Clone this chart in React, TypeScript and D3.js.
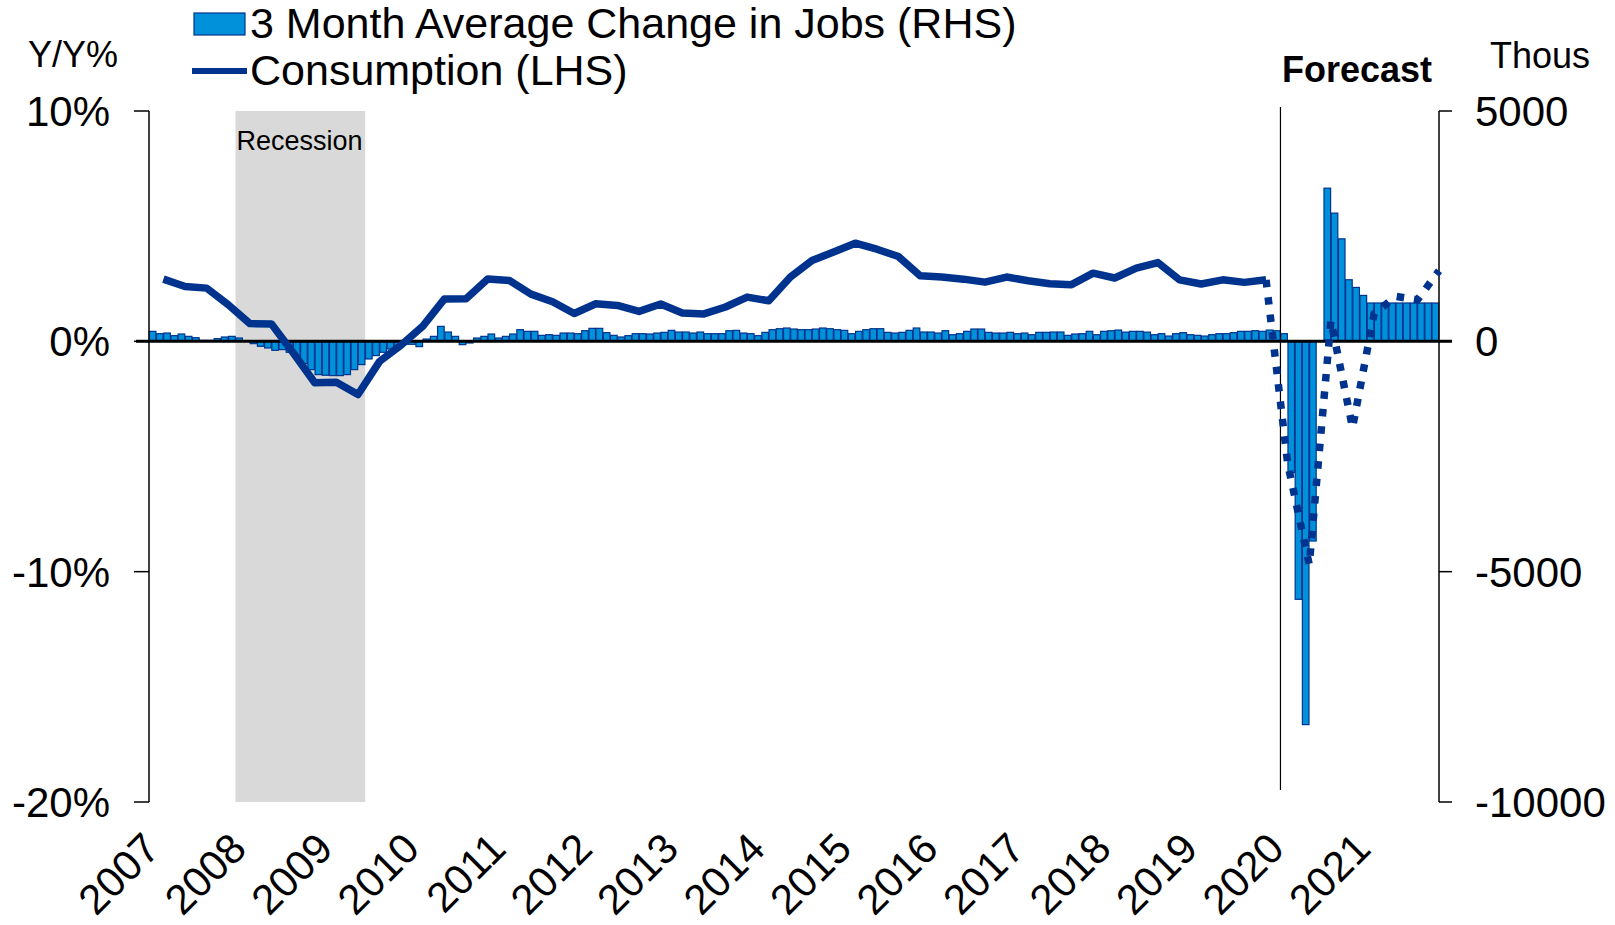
import React, { useEffect, useRef } from 'react';
import * as d3 from 'd3';

// monthly categories, Jan 2007 .. Nov 2021
const months: string[] = [];
for (let y = 2007; y <= 2021; y++) {
    for (let m = 1; m <= 12; m++) months.push(`${y}-${m < 10 ? '0' + m : m}`);
}
months.splice(179);

// 3 month average change in jobs, thousands (RHS)
const jobsChange: number[] = [
    217, 166, 180, 123, 159, 108, 79, 22, 22, 58, 94, 108,
    72, 15, -50, -108, -144, -195, -180, -238, -340, -484, -614, -722,
    -736, -744, -744, -722, -614, -505, -383, -310, -238, -166, -130, -65,
    -65, -115, 50, 108, 325, 202, 108, -72, -36, 72, 108, 159,
    72, 108, 159, 253, 217, 217, 130, 144, 130, 180, 180, 166,
    231, 282, 282, 188, 130, 94, 123, 166, 166, 159, 180, 195,
    238, 202, 202, 180, 202, 166, 166, 166, 231, 238, 180, 166,
    123, 195, 253, 274, 289, 267, 253, 253, 267, 289, 274, 253,
    238, 166, 217, 253, 274, 274, 195, 180, 195, 238, 289, 202,
    202, 180, 231, 144, 166, 217, 267, 267, 195, 180, 180, 195,
    166, 180, 144, 195, 195, 202, 202, 130, 159, 166, 217, 144,
    217, 230, 245, 200, 217, 217, 200, 144, 166, 115, 166, 188,
    144, 130, 115, 144, 166, 166, 188, 217, 217, 231, 217, 245,
    230, 166, -2850, -5600, -8320, -4335, 0, 3325, 2783, 2225, 1337, 1170,
    997, 832, 832, 832, 832, 832, 832, 832, 832, 832, 832
];

// consumption Y/Y %, quarterly (LHS)
const actualQuarters: string[] = [];
for (let y = 2007; y <= 2019; y++) for (let q = 1; q <= 4; q++) actualQuarters.push(`${y}Q${q}`);
const consumption: number[] = [
    2.70, 2.38, 2.31, 1.59,
    0.77, 0.75, -0.50, -1.80,
    -1.78, -2.31, -0.87, -0.16,
    0.66, 1.84, 1.85, 2.71,
    2.64, 2.05, 1.72, 1.21,
    1.63, 1.56, 1.30, 1.62,
    1.23, 1.19, 1.49, 1.92,
    1.76, 2.79, 3.51, 3.88,
    4.26, 4.00, 3.68, 2.85,
    2.79, 2.70, 2.57, 2.79,
    2.63, 2.50, 2.46, 2.96,
    2.75, 3.18, 3.42, 2.67,
    2.49, 2.67, 2.56, 2.67
];
const forecastQuarters: string[] = ['2019Q4', '2020Q1', '2020Q2', '2020Q3', '2020Q4', '2021Q1', '2021Q2', '2021Q3', '2021Q4'];
const consumptionForecast: number[] = [2.67, -5.3, -9.7, 0.9, -3.75, 1.2, 1.95, 1.8, 3.06];

const yearLabels: string[] = ['2007', '2008', '2009', '2010', '2011', '2012', '2013', '2014', '2015', '2016', '2017', '2018', '2019', '2020', '2021'];
const leftTicks: number[] = [10, 0, -10, -20];
const rightTicks: number[] = [5000, 0, -5000, -10000];

const width = 1615;
const height = 925;
const plot = {left: 149, right: 1439, top: 111, bottom: 802};
const font = '"Liberation Sans", Arial, sans-serif';
const darkBlue = '#00338D';
const lightBlue = '#0091DA';

// quarter -> middle month of that quarter
const quarterMonth = (q: string) => {
    const yr = q.slice(0, 4);
    const m = (+q.slice(5)) * 3 - 1;
    return `${yr}-${m < 10 ? '0' + m : m}`;
};

const App = () => {
    const anchor = useRef<SVGSVGElement>(null);

    useEffect(() => {
        const svg = d3.select(anchor.current);
        svg.selectAll('*').remove();

        const x = d3.scaleBand<string>().domain(months).range([plot.left, plot.right]).padding(0);
        const bw = x.bandwidth();
        const yL = d3.scaleLinear().domain([-20, 10]).range([plot.bottom, plot.top]);
        const yR = d3.scaleLinear().domain([-10000, 5000]).range([plot.bottom, plot.top]);
        const qx = (q: string) => (x(quarterMonth(q)) as number) + bw;

        // recession shading
        svg.append('rect')
            .attr('x', x('2008-01') as number)
            .attr('y', plot.top)
            .attr('width', (x('2009-06') as number) + bw - (x('2008-01') as number))
            .attr('height', plot.bottom - plot.top)
            .attr('fill', '#D9D9D9');
        svg.append('text')
            .attr('x', (x('2008-01') as number) + 1)
            .attr('y', 150)
            .attr('font-size', 27)
            .attr('font-family', font)
            .text('Recession');

        // bars
        svg.append('g').selectAll('rect')
            .data(jobsChange.map((v, i) => ({m: months[i], v})).filter(d => d.v !== 0))
            .enter().append('rect')
            .attr('x', d => (x(d.m) as number) + 0.3)
            .attr('width', bw - 0.6)
            .attr('y', d => Math.min(yR(d.v), yR(0)))
            .attr('height', d => Math.abs(yR(d.v) - yR(0)))
            .attr('fill', lightBlue)
            .attr('stroke', darkBlue)
            .attr('stroke-width', 1.2);

        // axes
        svg.append('line')
            .attr('x1', plot.left - 13).attr('x2', plot.right + 13)
            .attr('y1', yL(0)).attr('y2', yL(0))
            .attr('stroke', '#000').attr('stroke-width', 3);
        svg.append('line')
            .attr('x1', plot.left).attr('x2', plot.left)
            .attr('y1', plot.top).attr('y2', plot.bottom)
            .attr('stroke', '#000').attr('stroke-width', 1.5);
        svg.append('line')
            .attr('x1', plot.right).attr('x2', plot.right)
            .attr('y1', plot.top).attr('y2', plot.bottom)
            .attr('stroke', '#000').attr('stroke-width', 1.5);

        const lt = svg.append('g').selectAll('g').data(leftTicks).enter().append('g');
        lt.append('line')
            .attr('x1', plot.left - 15).attr('x2', plot.left)
            .attr('y1', d => yL(d)).attr('y2', d => yL(d))
            .attr('stroke', '#000').attr('stroke-width', 1.5);
        lt.append('text')
            .attr('x', 110).attr('y', d => yL(d) + 15)
            .attr('text-anchor', 'end')
            .attr('font-size', 42).attr('font-family', font)
            .text(d => `${d}%`);

        const rt = svg.append('g').selectAll('g').data(rightTicks).enter().append('g');
        rt.append('line')
            .attr('x1', plot.right).attr('x2', plot.right + 13)
            .attr('y1', d => yR(d)).attr('y2', d => yR(d))
            .attr('stroke', '#000').attr('stroke-width', 1.5);
        rt.append('text')
            .attr('x', 1475).attr('y', d => yR(d) + 15)
            .attr('font-size', 42).attr('font-family', font)
            .text(d => `${d}`);

        // year labels
        svg.append('g').selectAll('text').data(yearLabels).enter().append('text')
            .attr('transform', d => `translate(${(x(`${d}-01`) as number) + 13},${plot.bottom + 49}) rotate(-45)`)
            .attr('text-anchor', 'end')
            .attr('font-size', 42).attr('font-family', font)
            .text(d => d);

        // forecast divider
        svg.append('line')
            .attr('x1', x('2020-02') as number).attr('x2', x('2020-02') as number)
            .attr('y1', 107).attr('y2', 790)
            .attr('stroke', '#000').attr('stroke-width', 1.2);

        // consumption lines
        const line = d3.line<[string, number]>().x(d => qx(d[0])).y(d => yL(d[1]));
        svg.append('path')
            .datum(actualQuarters.map((q, i) => [q, consumption[i]] as [string, number]))
            .attr('d', line)
            .attr('fill', 'none').attr('stroke', darkBlue).attr('stroke-width', 7.5)
            .attr('stroke-linejoin', 'round');
        svg.append('path')
            .datum(forecastQuarters.map((q, i) => [q, consumptionForecast[i]] as [string, number]))
            .attr('d', line)
            .attr('fill', 'none').attr('stroke', darkBlue).attr('stroke-width', 7.5)
            .attr('stroke-dasharray', '7.5 10');

        // titles
        svg.append('text').attr('x', 28).attr('y', 67)
            .attr('font-size', 36).attr('font-family', font).text('Y/Y%');
        svg.append('text').attr('x', 1490).attr('y', 68)
            .attr('font-size', 36).attr('font-family', font).text('Thous');
        svg.append('text').attr('x', 1282).attr('y', 82)
            .attr('font-size', 36).attr('font-weight', 'bold').attr('font-family', font).text('Forecast');

        // legend
        svg.append('rect')
            .attr('x', 194).attr('y', 13).attr('width', 51).attr('height', 22)
            .attr('fill', lightBlue).attr('stroke', darkBlue).attr('stroke-width', 1.2);
        svg.append('text').attr('x', 250).attr('y', 38)
            .attr('font-size', 43).attr('font-family', font)
            .text('3 Month Average Change in Jobs (RHS)');
        svg.append('line')
            .attr('x1', 192).attr('x2', 247).attr('y1', 71).attr('y2', 71)
            .attr('stroke', darkBlue).attr('stroke-width', 6);
        svg.append('text').attr('x', 250).attr('y', 85)
            .attr('font-size', 43).attr('font-family', font)
            .text('Consumption (LHS)');
    }, []);

    return <svg ref={anchor} width={width} height={height}
                style={{position: 'absolute', left: 0, top: 0, background: '#fff'}}/>;
};

export default App;
